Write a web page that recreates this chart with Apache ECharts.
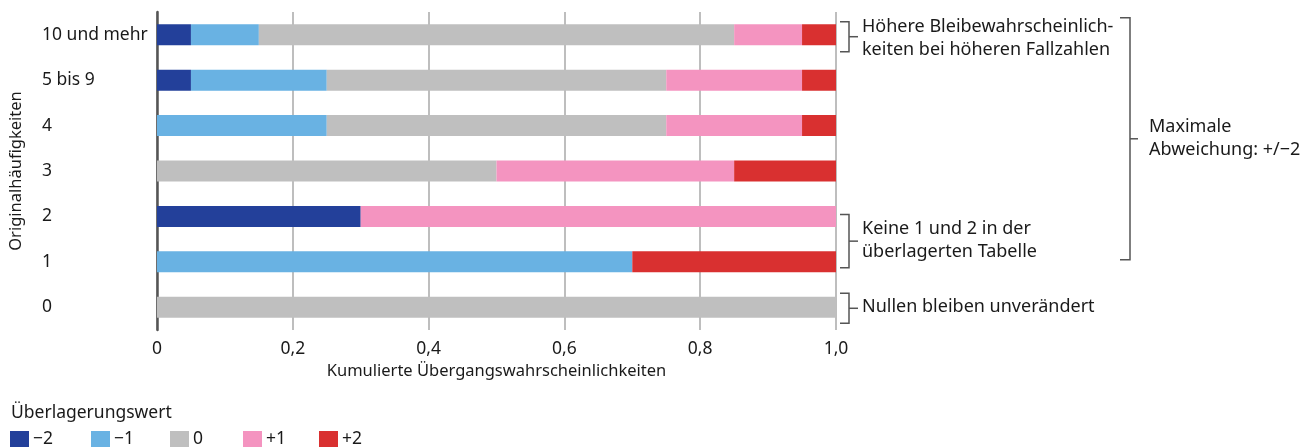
<!DOCTYPE html>
<html>
<head>
<meta charset="utf-8">
<script src="https://cdn.jsdelivr.net/npm/echarts@6/dist/echarts.min.js"></script>
<style>
  html, body { margin: 0; padding: 0; background: #fff; }
  #main { width: 1314px; height: 447px; }
</style>
</head>
<body>
<div id="main"></div>
<script>
var categories = ["0", "1", "2", "3", "4", "5 bis 9", "10 und mehr"];
var seriesNames = ["\u22122", "\u22121", "0", "+1", "+2"];
var colors = ["#23409a", "#69b2e3", "#bfbfbf", "#f494c0", "#d93030"];
// shares per category (bottom to top), one array per overlay value
var minus2 = [0, 0, 0.3, 0, 0, 0.05, 0.05];
var minus1 = [0, 0.7, 0, 0, 0.25, 0.2, 0.1];
var zero = [1.0, 0, 0, 0.5, 0.5, 0.5, 0.7];
var plus1 = [0, 0, 0.7, 0.35, 0.2, 0.2, 0.1];
var plus2 = [0, 0.3, 0, 0.15, 0.05, 0.05, 0.05];
var xTicks = [0, 0.2, 0.4, 0.6, 0.8, 1.0];

var font = "Noto Sans";
var fs = 17.5;
var textColor = "#1a1a1a";
var lineColor = "#555";

var myChart = echarts.init(document.getElementById("main"));

var values = [minus2, minus1, zero, plus1, plus2];
var series = [];
for (var i = 0; i < values.length; i++) {
  series.push({
    name: seriesNames[i],
    type: "bar",
    stack: "total",
    barWidth: 21,
    itemStyle: { color: colors[i] },
    data: values[i],
  });
}

// one legend per item so every entry gets its own slot
var legendLeft = [10, 91, 170, 243, 319];
var legends = [];
for (var j = 0; j < seriesNames.length; j++) {
  legends.push({
    left: legendLeft[j],
    top: 430,
    itemWidth: 19,
    itemHeight: 16,
    itemGap: 0,
    icon: "rect",
    selectedMode: false,
    padding: 0,
    textStyle: { fontFamily: font, fontSize: fs, color: textColor, padding: [0, 0, 0, -1] },
    data: [seriesNames[j]],
  });
}

var option = {
  animation: false,
  textStyle: { fontFamily: font },
  title: {
    text: "Überlagerungswert",
    left: 6,
    top: 399,
    textStyle: { fontFamily: font, fontSize: fs, fontWeight: "normal", color: textColor },
  },
  legend: legends,
  grid: {
    left: 155,
    right: 478,
    top: 12,
    bottom: 117,
  },
  xAxis: {
    type: "value",
    min: xTicks[0],
    max: xTicks[xTicks.length - 1],
    interval: 0.2,
    name: "Kumulierte Übergangswahrscheinlichkeiten",
    nameLocation: "middle",
    nameGap: 30,
    nameTextStyle: { fontFamily: font, fontSize: 16.5, color: textColor },
    axisLine: { show: false },
    axisTick: { show: false },
    axisLabel: {
      fontFamily: font,
      fontSize: fs,
      color: textColor,
      margin: 10,
      formatter: function (v) {
        if (v === 0) return "0";
        return v.toFixed(1).replace(".", ",");
      },
    },
    splitLine: { lineStyle: { color: "#a8a8a8", width: 1.5 } },
  },
  yAxis: {
    type: "category",
    data: categories,
    name: "Originalhäufigkeiten",
    nameLocation: "middle",
    nameRotate: 90,
    nameGap: 132,
    nameTextStyle: { fontFamily: font, fontSize: 16.5, color: textColor },
    axisLine: { show: true, lineStyle: { color: lineColor, width: 2.5 } },
    axisTick: { show: false },
    axisLabel: {
      fontFamily: font,
      fontSize: fs,
      color: textColor,
      align: "left",
      margin: 115,
    },
  },
  series: series,
};
myChart.setOption(option);

// annotation brackets next to the bars
function yOf(cat) {
  return myChart.convertToPixel({ yAxisIndex: 0 }, cat);
}
function bracket(x, y1, y2, inLen, outLen, stroke) {
  var ym = (y1 + y2) / 2;
  return [
    {
      type: "polyline",
      shape: { points: [[x - inLen, y1], [x, y1], [x, y2], [x - inLen, y2]] },
      style: { stroke: stroke, lineWidth: 1.5, fill: null },
    },
    {
      type: "line",
      shape: { x1: x, y1: ym, x2: x + outLen, y2: ym },
      style: { stroke: stroke, lineWidth: 1.5 },
    },
  ];
}
function label(x, y, text) {
  return {
    type: "text",
    x: x,
    y: y,
    style: {
      text: text,
      fontFamily: font,
      fontSize: 18,
      lineHeight: 23,
      fill: textColor,
      verticalAlign: "middle",
    },
  };
}

var yTop = yOf("10 und mehr");
var y2 = yOf("2");
var y1 = yOf("1");
var y0 = yOf("0");
var bx = 849;
var graphics = [];
graphics = graphics.concat(bracket(bx, yTop - 13, yTop + 17, 9, 9, lineColor));
graphics.push(label(862, yTop + 4, "Höhere Bleibewahrscheinlich-\nkeiten bei höheren Fallzahlen"));
graphics = graphics.concat(bracket(bx, y2 - 2, y1 + 6, 9, 9, lineColor));
graphics.push(label(862, (y2 + y1) / 2 + 1, "Keine 1 und 2 in der\nüberlagerten Tabelle"));
graphics = graphics.concat(bracket(bx, y0 - 14, y0 + 16, 9, 9, lineColor));
graphics.push(label(862, y0 + 0, "Nullen bleiben unverändert"));
graphics = graphics.concat(bracket(1130, yTop - 17, y1 - 2, 10, 8, lineColor));
graphics.push(label(1149, (yTop - 17 + y1 - 2) / 2, "Maximale\nAbweichung: +/\u22122"));

myChart.setOption({ graphic: graphics });
</script>
</body>
</html>
